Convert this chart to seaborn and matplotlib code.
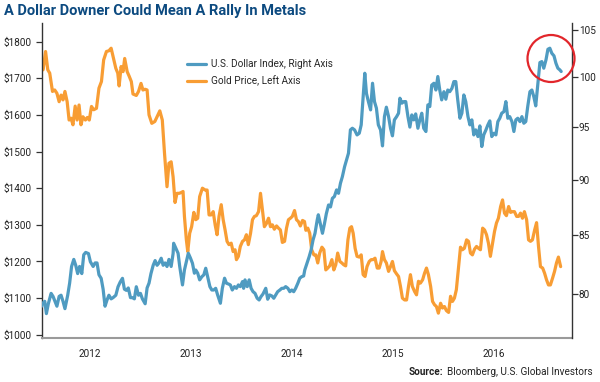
import numpy as np
import pandas as pd
import matplotlib
matplotlib.use('Agg')
import matplotlib.pyplot as plt
import matplotlib.ticker as mticker
from matplotlib.patches import Ellipse
from matplotlib.lines import Line2D
import seaborn as sns

# Weekly-ish observations, days counted from the first point (2012-01-10)
start_date = '2012-01-10'

gold_days = [
    0, 5, 14, 22, 29, 39, 47, 55, 63, 70, 77, 84, 92, 99, 106, 113, 121, 128, 135, 142,
    149, 158, 165, 172, 180, 188, 198, 207, 216, 224, 234, 243, 251, 258, 268, 275, 280, 287, 294, 300,
    309, 316, 324, 330, 342, 350, 359, 366, 374, 381, 388, 398, 409, 417, 427, 436, 444, 453, 460, 468,
    475, 482, 489, 497, 504, 511, 516, 523, 528, 535, 542, 550, 557, 564, 571, 581, 591, 598, 605, 612,
    620, 627, 634, 641, 649, 656, 663, 670, 677, 685, 692, 699, 704, 711, 718, 726, 733, 740, 747, 755,
    762, 769, 776, 784, 791, 798, 805, 812, 820, 827, 834, 841, 849, 856, 863, 870, 878, 885, 892, 899,
    906, 914, 921, 928, 935, 943, 950, 955, 962, 969, 976, 984, 991, 998, 1005, 1013, 1020, 1027, 1034, 1041,
    1049, 1056, 1063, 1070, 1078, 1085, 1092, 1099, 1107, 1114, 1120, 1126, 1133, 1140, 1148, 1155, 1162, 1169, 1176, 1184,
    1191, 1198, 1205, 1213, 1220, 1227, 1232, 1239, 1246, 1254, 1261, 1268, 1275, 1283, 1290, 1297, 1304, 1312, 1319, 1326,
    1333, 1340, 1348, 1355, 1362, 1369, 1377, 1384, 1391, 1398, 1406, 1413, 1420, 1427, 1434, 1442, 1449, 1456, 1463, 1471,
    1478, 1485, 1492, 1499, 1507, 1514, 1521, 1528, 1536, 1543, 1550, 1557, 1565, 1572, 1579, 1586, 1594, 1601, 1608, 1615,
    1622, 1630, 1637, 1644, 1651, 1659, 1666, 1673, 1680, 1688, 1695, 1702, 1709, 1717, 1724, 1731, 1738, 1745, 1753, 1760,
    1767, 1774, 1782, 1789, 1796, 1803, 1811, 1818, 1825, 1832, 1839, 1847, 1854, 1861, 1868, 1876,
]
gold_price = [
    1727, 1723, 1773, 1723, 1714, 1664, 1668, 1659, 1636, 1654, 1641, 1664, 1636, 1586, 1591, 1573, 1624, 1586, 1627, 1573,
    1595, 1586, 1593, 1586, 1623, 1614, 1618, 1673, 1691, 1750, 1773, 1775, 1782, 1759, 1727, 1714, 1679, 1732, 1718, 1754,
    1718, 1706, 1691, 1657, 1653, 1664, 1686, 1668, 1670, 1668, 1600, 1577, 1582, 1595, 1611, 1586, 1495, 1404, 1468, 1472,
    1431, 1361, 1386, 1386, 1388, 1391, 1323, 1259, 1227, 1277, 1295, 1334, 1314, 1318, 1377, 1400, 1395, 1395, 1327, 1327,
    1336, 1300, 1273, 1323, 1355, 1314, 1286, 1255, 1246, 1250, 1227, 1232, 1205, 1214, 1241, 1255, 1259, 1273, 1246, 1277,
    1314, 1323, 1325, 1336, 1386, 1341, 1295, 1303, 1318, 1295, 1300, 1288, 1297, 1291, 1286, 1252, 1255, 1291, 1314, 1318,
    1323, 1339, 1314, 1309, 1297, 1312, 1309, 1285, 1291, 1277, 1232, 1218, 1218, 1196, 1223, 1239, 1232, 1177, 1182, 1188,
    1205, 1177, 1191, 1223, 1200, 1196, 1191, 1188, 1259, 1291, 1295, 1277, 1236, 1214, 1212, 1218, 1164, 1159, 1186, 1200,
    1205, 1205, 1209, 1182, 1182, 1200, 1227, 1205, 1196, 1173, 1186, 1200, 1175, 1166, 1159, 1132, 1100, 1095, 1095, 1132,
    1164, 1132, 1118, 1109, 1146, 1141, 1150, 1168, 1182, 1164, 1132, 1091, 1082, 1077, 1059, 1086, 1073, 1077, 1066, 1061,
    1105, 1091, 1100, 1123, 1186, 1239, 1232, 1236, 1259, 1255, 1223, 1218, 1234, 1241, 1236, 1232, 1291, 1286, 1273, 1250,
    1214, 1250, 1282, 1305, 1318, 1350, 1368, 1332, 1325, 1350, 1334, 1336, 1336, 1323, 1323, 1332, 1318, 1336, 1314, 1259,
    1255, 1259, 1286, 1306, 1241, 1186, 1182, 1168, 1150, 1136, 1136, 1155, 1173, 1196, 1212, 1186,
]

usd_days = [
    0, 2, 11, 17, 24, 34, 41, 48, 55, 63, 70, 77, 84, 94, 101, 108, 116, 123, 130, 137,
    145, 152, 159, 169, 176, 186, 193, 200, 207, 215, 222, 229, 236, 243, 251, 258, 268, 276, 284, 292,
    299, 306, 313, 321, 328, 335, 342, 350, 357, 364, 374, 381, 388, 395, 403, 410, 417, 424, 432, 439,
    446, 453, 460, 468, 475, 477, 485, 493, 499, 509, 516, 523, 530, 538, 545, 552, 557, 564, 571, 579,
    586, 593, 600, 608, 615, 622, 629, 636, 646, 653, 661, 668, 675, 682, 689, 697, 704, 711, 718, 726,
    730, 735, 743, 750, 757, 764, 771, 779, 786, 793, 800, 810, 817, 824, 832, 839, 846, 853, 861, 868,
    875, 882, 890, 897, 904, 911, 918, 926, 933, 940, 947, 951, 959, 967, 974, 981, 988, 996, 1000, 1008,
    1015, 1022, 1029, 1037, 1044, 1051, 1058, 1066, 1073, 1080, 1087, 1095, 1102, 1109, 1116, 1123, 1131, 1140, 1148, 1155,
    1162, 1168, 1174, 1181, 1189, 1196, 1203, 1210, 1217, 1225, 1232, 1239, 1246, 1254, 1261, 1268, 1275, 1283, 1290, 1295,
    1302, 1309, 1316, 1324, 1331, 1338, 1345, 1352, 1360, 1367, 1374, 1381, 1389, 1396, 1403, 1410, 1418, 1425, 1432, 1439,
    1446, 1454, 1461, 1468, 1475, 1483, 1490, 1497, 1504, 1512, 1519, 1526, 1533, 1541, 1548, 1555, 1562, 1569, 1577, 1584,
    1591, 1598, 1606, 1613, 1620, 1627, 1635, 1642, 1649, 1656, 1663, 1671, 1678, 1685, 1692, 1700, 1707, 1714, 1721, 1729,
    1736, 1743, 1750, 1757, 1765, 1772, 1779, 1786, 1794, 1801, 1808, 1815, 1823, 1830, 1837, 1844, 1852, 1859, 1866, 1873,
    1878,
]
usd_index = [
    79.0, 79.2, 79.4, 78.4, 79.2, 80.05, 79.8, 79.4, 79.0, 79.8, 79.9, 79.4, 78.8, 79.9, 80.9, 82.3, 82.9, 82.4, 81.7, 82.3,
    81.7, 83.3, 83.5, 83.4, 82.7, 82.3, 82.6, 82.6, 81.6, 81.3, 80.4, 79.0, 79.5, 79.9, 79.6, 79.7, 79.9, 80.6, 81.0, 81.3,
    80.4, 80.3, 80.5, 79.7, 79.7, 79.6, 80.6, 79.9, 80.05, 79.6, 79.2, 80.5, 80.9, 81.7, 82.4, 82.8, 82.4, 82.6, 83.0, 82.4,
    82.6, 82.3, 82.9, 82.3, 83.4, 84.29, 83.87, 83.43, 82.29, 80.75, 82.0, 82.71, 83.43, 83.0, 82.57, 81.73, 82.0, 81.73, 81.17, 81.44,
    81.59, 82.15, 81.44, 80.61, 80.33, 80.33, 80.47, 79.92, 79.24, 80.47, 81.31, 80.89, 80.83, 80.75, 80.33, 80.61, 80.47, 80.75, 80.61, 81.03,
    80.47, 81.17, 80.61, 81.17, 80.47, 80.19, 80.06, 79.65, 79.51, 79.79, 80.0, 80.47, 79.57, 79.92, 79.84, 79.65, 79.92, 80.19, 80.33, 80.47,
    80.47, 80.61, 80.47, 80.19, 80.33, 80.19, 80.47, 80.89, 81.31, 81.44, 81.5, 82.0, 82.57, 83.14, 83.72, 84.58, 85.16, 86.34, 86.8, 85.9,
    85.16, 85.98, 86.9, 87.68, 87.5, 88.29, 88.44, 89.05, 88.74, 89.66, 90.28, 91.21, 91.85, 92.48, 94.73, 94.89, 94.73, 94.24, 94.4, 95.22,
    98.03, 100.42, 98.36, 97.53, 96.7, 99.39, 97.53, 96.87, 95.22, 94.73, 93.18, 96.03, 96.97, 96.03, 94.89, 94.15, 95.71, 96.03, 96.37, 97.87,
    97.37, 97.53, 97.53, 96.03, 95.0, 96.2, 95.71, 96.3, 94.89, 95.71, 96.37, 94.89, 94.57, 97.2, 97.03, 99.2, 99.39, 98.7, 100.08, 98.7,
    97.7, 98.53, 97.77, 98.7, 98.53, 98.87, 99.56, 99.56, 97.7, 95.87, 96.37, 98.2, 97.53, 96.03, 95.22, 95.71, 94.24, 94.73, 94.08, 95.12,
    93.12, 94.24, 94.73, 95.22, 95.61, 94.08, 94.4, 94.24, 95.54, 95.87, 96.37, 96.53, 97.53, 95.87, 96.03, 95.54, 94.57, 95.71, 95.87, 95.54,
    96.03, 95.38, 95.54, 97.03, 98.53, 98.7, 98.03, 97.1, 99.39, 101.53, 101.63, 100.94, 101.81, 102.93, 103.04, 102.51, 102.23, 101.46, 100.94, 100.77,
    100.6,
]

years = [2012, 2013, 2014, 2015, 2016]
gold_ticks = [1000, 1100, 1200, 1300, 1400, 1500, 1600, 1700, 1800]
usd_ticks = [80, 85, 90, 95, 100, 105]

BLUE = '#4f9bc1'
GOLD = '#f89d34'

sns.set_style('white')
plt.rcParams['font.family'] = ['Roboto', 'DejaVu Sans']

t0 = pd.Timestamp(start_date)
gold_df = pd.DataFrame({'date': t0 + pd.to_timedelta(gold_days, unit='D'), 'price': gold_price})
usd_df = pd.DataFrame({'date': t0 + pd.to_timedelta(usd_days, unit='D'), 'index': usd_index})

fig = plt.figure(figsize=(6, 3.82), dpi=100)
ax = fig.add_axes([0.0695, 0.115, 0.8838, 0.825])
ax2 = ax.twinx()

sns.lineplot(data=gold_df, x='date', y='price', ax=ax, color=GOLD, lw=2.3)
sns.lineplot(data=usd_df, x='date', y='index', ax=ax2, color=BLUE, lw=2.3)

ax.set_xlim(t0, t0 + pd.Timedelta(days=1917))
ax.set_ylim(991, 1851)
ax2.set_yscale('log')
ax2.set_ylim(76.45, 105.76)

ax.set_xticks([pd.Timestamp(f'{y}-07-01') for y in years])
ax.set_xticklabels([str(y) for y in years])
ax.set_yticks(gold_ticks)
ax.set_yticklabels([f'${v}' for v in gold_ticks])
ax2.yaxis.set_major_locator(mticker.FixedLocator(usd_ticks))
ax2.yaxis.set_minor_locator(mticker.NullLocator())
ax2.yaxis.set_major_formatter(mticker.FixedFormatter([str(v) for v in usd_ticks]))

for a in (ax, ax2):
    a.set_xlabel('')
    a.set_ylabel('')
    a.spines['top'].set_visible(False)
ax.spines['right'].set_visible(False)
ax2.spines['left'].set_visible(False)
ax2.spines['bottom'].set_visible(False)
ax.spines['left'].set_color('#333333')
ax.spines['left'].set_linewidth(1.0)
ax2.spines['right'].set_color('#333333')
ax2.spines['right'].set_linewidth(1.0)
ax.spines['bottom'].set_color('#9a9a9a')
ax.spines['bottom'].set_linewidth(1.5)

ax.tick_params(axis='x', length=0, pad=8, labelsize=7.2, colors='#222222')
ax.tick_params(axis='y', left=True, length=4.5, width=0.9, color='#333333', pad=2.5,
               labelsize=7.2, labelcolor='#222222')
ax2.tick_params(axis='y', right=True, length=4, width=0.9, color='#333333', pad=1,
                labelsize=7.2, labelcolor='#222222')
ax.grid(False)
ax2.grid(False)

handles = [Line2D([], [], color=BLUE, lw=2.3), Line2D([], [], color=GOLD, lw=2.3)]
fig.legend(handles, ['U.S. Dollar Index, Right Axis', 'Gold Price, Left Axis'],
           loc='upper left', bbox_to_anchor=(0.312, 0.845), frameon=False,
           fontsize=7.2, handlelength=1.9, handletextpad=0.5, labelspacing=0.65,
           borderpad=0, borderaxespad=0)

# red highlight ring around the latest dollar peak
fig.patches.append(Ellipse((551 / 600, 1 - 58.5 / 382), 47 / 600, 47 / 382,
                           transform=fig.transFigure, fill=False,
                           edgecolor='#e2262b', lw=1.6))

fig.text(0.007, 1 - 11 / 382, 'A Dollar Downer Could Mean A Rally In Metals',
         fontsize=10.5, fontweight='bold', color='#0c4a80', va='center', ha='left')

# source line: bold label placed just left of the right-aligned sources
rest = fig.text(0.987, 1 - 372 / 382, 'Bloomberg, U.S. Global Investors', fontsize=7.2,
                color='#222222', va='center', ha='right')
ax.annotate('Source:', xy=(0, 0.5), xycoords=rest, xytext=(-2.5, 0),
            textcoords='offset points', ha='right', va='center', fontsize=7.2,
            fontweight='bold', color='#222222', annotation_clip=False)

fig.savefig('out.png', dpi=100)
